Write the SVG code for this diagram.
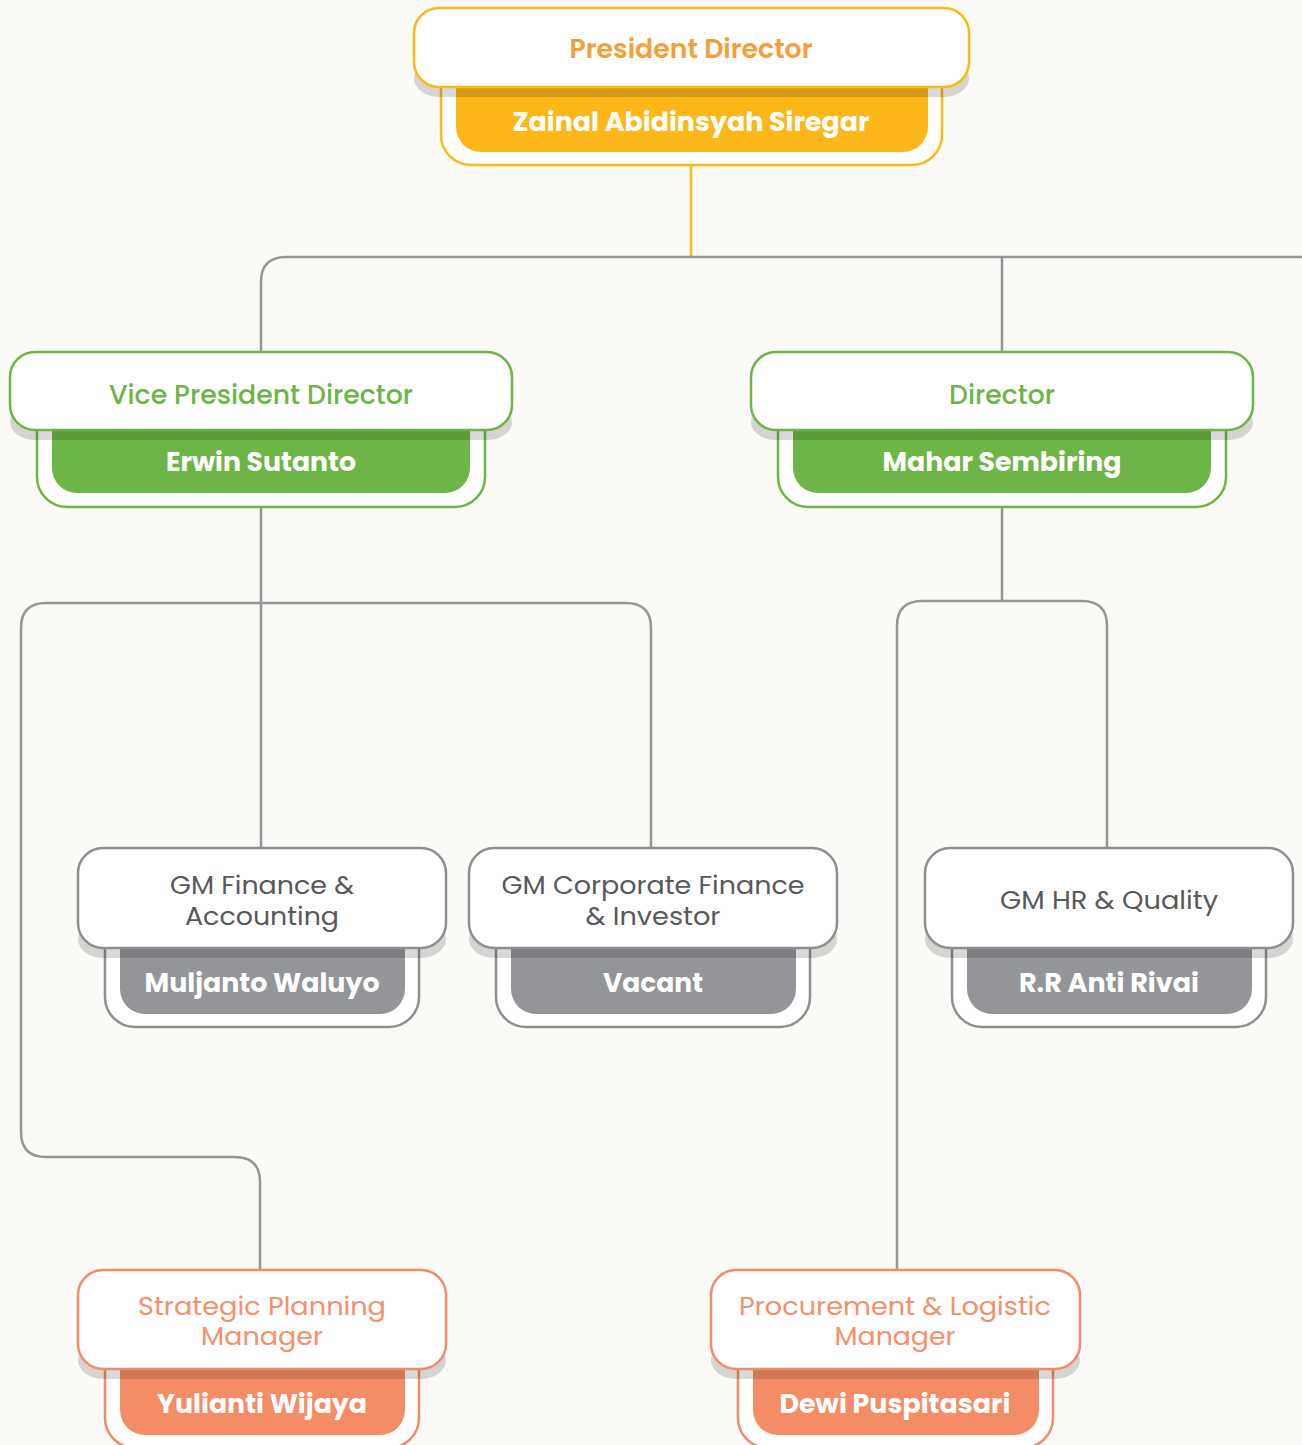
<svg xmlns="http://www.w3.org/2000/svg" width="1302" height="1445" viewBox="0 0 1302 1445">
<style>
.bg{fill:#FCFAF6}
.top{fill:#FFFFFF;stroke-width:2.5}
.outer{fill:#FFFFFF;stroke-width:2.5}
.shadow{fill:#000000;fill-opacity:0.15}
.t{font-family:Poppins,"Inter","Open Sans",sans-serif;text-anchor:middle;dominant-baseline:central}
.title{font-size:26px;font-weight:500}
.name{font-size:26px;font-weight:700;fill:#FFFFFF}
.gm{font-size:24px;font-weight:400;fill:#58595B}
.gm.sal{fill:#F4906B}
.ttl-y{fill:#F59E3A;font-weight:600}
.ttl-g{fill:#6DB546}
.y .top,.y .outer{stroke:#FDB813}
.y .fill{fill:#FDB71A}
.g .top,.g .outer{stroke:#6DB546}
.g .fill{fill:#6DB546}
.k .top,.k .outer{stroke:#8E8F93}
.k .fill{fill:#939598}
.s .top,.s .outer{stroke:#F28C68}
.s .fill{fill:#F48C66}
.conn{fill:none;stroke:#939598;stroke-width:2.5}
</style>
<rect class="bg" x="0" y="0" width="1302" height="1445"/>

<g id="connectors">
  <path d="M691 165 V257" fill="none" stroke="#FDB813" stroke-width="2.5"/>
  <path class="conn" d="M261 352 V282 Q261 257 286 257 H1302"/>
  <path class="conn" d="M1002 257 V352"/>
  <path class="conn" d="M261 507 V848"/>
  <path class="conn" d="M651 848 V628 Q651 603 626 603 H46 Q21 603 21 628 V1132 Q21 1157 46 1157 H235 Q260 1157 260 1182 V1270"/>
  <path class="conn" d="M1002 507 V601"/>
  <path class="conn" d="M897 1270 V626 Q897 601 922 601 H1082 Q1107 601 1107 626 V848"/>
</g>

<g id="president" class="y">
  <rect class="outer" x="441" y="60" width="501" height="105" rx="30"/>
  <rect class="fill" x="456" y="60" width="472" height="92" rx="25"/>
  <rect class="shadow" x="414" y="60" width="555" height="37" rx="25"/>
  <rect class="top" x="414" y="8" width="555" height="79" rx="25"/>
  <text class="t title ttl-y" x="691" y="49" textLength="243" lengthAdjust="spacingAndGlyphs">President Director</text>
  <text class="t name" x="691" y="122" textLength="357" lengthAdjust="spacingAndGlyphs">Zainal Abidinsyah Siregar</text>
</g>

<g id="vp" class="g">
  <rect class="outer" x="37" y="400" width="448" height="107" rx="30"/>
  <rect class="fill" x="52" y="400" width="418" height="93" rx="25"/>
  <rect class="shadow" x="10" y="404" width="502" height="36" rx="25"/>
  <rect class="top" x="10" y="352" width="502" height="78" rx="25"/>
  <text class="t title ttl-g" x="261" y="395" textLength="304" lengthAdjust="spacingAndGlyphs">Vice President Director</text>
  <text class="t name" x="261" y="462" textLength="190" lengthAdjust="spacingAndGlyphs">Erwin Sutanto</text>
</g>

<g id="director" class="g">
  <rect class="outer" x="778" y="400" width="448" height="107" rx="30"/>
  <rect class="fill" x="793" y="400" width="418" height="93" rx="25"/>
  <rect class="shadow" x="751" y="404" width="502" height="36" rx="25"/>
  <rect class="top" x="751" y="352" width="502" height="78" rx="25"/>
  <text class="t title ttl-g" x="1002" y="395" textLength="106" lengthAdjust="spacingAndGlyphs">Director</text>
  <text class="t name" x="1002" y="462" textLength="239" lengthAdjust="spacingAndGlyphs">Mahar Sembiring</text>
</g>

<g id="gm-finance" class="k">
  <rect class="outer" x="105" y="910" width="314" height="117" rx="30"/>
  <rect class="fill" x="120" y="910" width="285" height="104" rx="25"/>
  <rect class="shadow" x="78" y="920" width="368" height="38" rx="25"/>
  <rect class="top" x="78" y="848" width="368" height="100" rx="25"/>
  <text class="t gm" x="262" y="885" textLength="184" lengthAdjust="spacingAndGlyphs">GM Finance &amp;</text>
  <text class="t gm" x="262" y="916" textLength="154" lengthAdjust="spacingAndGlyphs">Accounting</text>
  <text class="t name" x="262" y="983" textLength="235" lengthAdjust="spacingAndGlyphs">Muljanto Waluyo</text>
</g>

<g id="gm-corporate" class="k">
  <rect class="outer" x="496" y="910" width="314" height="117" rx="30"/>
  <rect class="fill" x="511" y="910" width="285" height="104" rx="25"/>
  <rect class="shadow" x="469" y="920" width="368" height="38" rx="25"/>
  <rect class="top" x="469" y="848" width="368" height="100" rx="25"/>
  <text class="t gm" x="653" y="885" textLength="303" lengthAdjust="spacingAndGlyphs">GM Corporate Finance</text>
  <text class="t gm" x="653" y="916" textLength="135" lengthAdjust="spacingAndGlyphs">&amp; Investor</text>
  <text class="t name" x="653" y="983" textLength="100" lengthAdjust="spacingAndGlyphs">Vacant</text>
</g>

<g id="gm-hr" class="k">
  <rect class="outer" x="952" y="910" width="314" height="117" rx="30"/>
  <rect class="fill" x="967" y="910" width="285" height="104" rx="25"/>
  <rect class="shadow" x="925" y="920" width="368" height="38" rx="25"/>
  <rect class="top" x="925" y="848" width="368" height="100" rx="25"/>
  <text class="t gm" x="1109" y="900" textLength="218" lengthAdjust="spacingAndGlyphs">GM HR &amp; Quality</text>
  <text class="t name" x="1109" y="983" textLength="180" lengthAdjust="spacingAndGlyphs">R.R Anti Rivai</text>
</g>

<g id="strategic" class="s">
  <rect class="outer" x="105" y="1330" width="314" height="118" rx="30"/>
  <rect class="fill" x="120" y="1330" width="285" height="105" rx="25"/>
  <rect class="shadow" x="78" y="1341" width="368" height="38" rx="25"/>
  <rect class="top" x="78" y="1270" width="368" height="99" rx="25"/>
  <text class="t gm sal" x="262" y="1306" textLength="248" lengthAdjust="spacingAndGlyphs">Strategic Planning</text>
  <text class="t gm sal" x="262" y="1336" textLength="122" lengthAdjust="spacingAndGlyphs">Manager</text>
  <text class="t name" x="262" y="1404" textLength="210" lengthAdjust="spacingAndGlyphs">Yulianti Wijaya</text>
</g>

<g id="procurement" class="s">
  <rect class="outer" x="738" y="1330" width="315" height="118" rx="30"/>
  <rect class="fill" x="753" y="1330" width="286" height="105" rx="25"/>
  <rect class="shadow" x="711" y="1341" width="369" height="38" rx="25"/>
  <rect class="top" x="711" y="1270" width="369" height="99" rx="25"/>
  <text class="t gm sal" x="895" y="1306" textLength="312" lengthAdjust="spacingAndGlyphs">Procurement &amp; Logistic</text>
  <text class="t gm sal" x="895" y="1336" textLength="121" lengthAdjust="spacingAndGlyphs">Manager</text>
  <text class="t name" x="895" y="1404" textLength="231" lengthAdjust="spacingAndGlyphs">Dewi Puspitasari</text>
</g>
</svg>
